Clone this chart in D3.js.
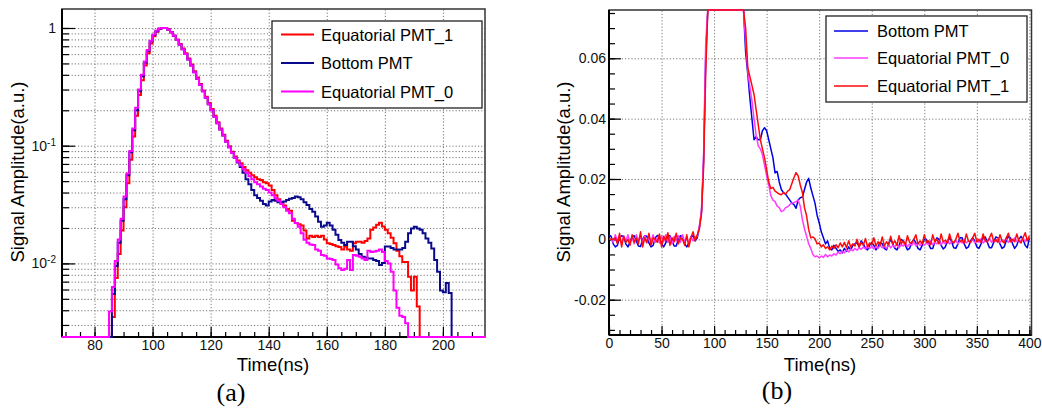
<!DOCTYPE html>
<html>
<head>
<meta charset="utf-8">
<script src="https://cdn.jsdelivr.net/npm/d3@7"></script>
<style>
  body { margin: 0; background: #fff; }
  svg { display: block; font-family: "Liberation Sans", Arial, sans-serif; }
  .grid line { stroke: #777; stroke-dasharray: 1.2,2; }
  .grid path, .ticks path { display: none; }
  .ticks line { stroke: #000; stroke-width: 1.2; }
  .ticks text { font-size: 14px; fill: #111; font-family: "Liberation Sans", Arial, sans-serif; }
</style>
</head>
<body>
<svg id="chart" width="1042" height="411"></svg>
<script>
// ---- panel (a): histograms, 1 ns bins, first bin starts at histStart ----
var histStart = 85;

var eq1Hist = [
  0, 0.0035, 0.0075, 0.012, 0.019,
  0.030, 0.048, 0.076, 0.12, 0.18, 0.27, 0.36, 0.48, 0.61, 0.74,
  0.85, 0.93, 0.98, 1.0, 1.0, 0.97, 0.92, 0.86, 0.80, 0.73,
  0.67, 0.61, 0.55, 0.49, 0.43, 0.38, 0.335, 0.295, 0.26, 0.23,
  0.205, 0.18, 0.158, 0.14, 0.124, 0.11, 0.099, 0.089, 0.081, 0.075,
  0.071, 0.066, 0.062, 0.059, 0.056, 0.054, 0.052, 0.051, 0.049, 0.048,
  0.046, 0.042, 0.038, 0.035, 0.033, 0.031, 0.029, 0.028, 0.023, 0.022,
  0.0215, 0.021, 0.019, 0.0163, 0.0172, 0.0168, 0.0172, 0.0168, 0.0172, 0.016,
  0.0148, 0.0146, 0.0143, 0.014, 0.0138, 0.0131, 0.0139, 0.0131, 0.0128, 0.0148,
  0.0153, 0.0153, 0.015, 0.0155, 0.0163, 0.0193, 0.0202, 0.0213, 0.0222, 0.0206,
  0.0193, 0.018, 0.0165, 0.0148, 0.0128, 0.0115, 0.0103, 0.0103, 0.0077, 0.0059,
  0.0077, 0.0043
];

var bottomHist = [
  0, 0.0055, 0.0095, 0.015, 0.023,
  0.035, 0.056, 0.088, 0.135, 0.2, 0.29, 0.39, 0.51, 0.64, 0.77,
  0.87, 0.94, 0.985, 1.0, 1.0, 0.97, 0.92, 0.86, 0.79, 0.72,
  0.66, 0.60, 0.54, 0.48, 0.42, 0.37, 0.33, 0.29, 0.255, 0.225,
  0.20, 0.175, 0.155, 0.137, 0.122, 0.108, 0.097, 0.087, 0.079, 0.072,
  0.066, 0.059, 0.052, 0.047, 0.042, 0.038, 0.036, 0.034, 0.032, 0.031,
  0.0335, 0.0345, 0.034, 0.033, 0.0328, 0.0335, 0.0345, 0.0355, 0.036, 0.037,
  0.0365, 0.035, 0.033, 0.0313, 0.029, 0.0275, 0.025, 0.0226, 0.0205, 0.021,
  0.0222, 0.021, 0.0193, 0.0175, 0.0158, 0.015, 0.0143, 0.0153, 0.0153, 0.014,
  0.0131, 0.012, 0.0114, 0.0112, 0.011, 0.011, 0.0107, 0.0105, 0.0097, 0.0101,
  0.0139, 0.0139, 0.0135, 0.0131, 0.0131, 0.0131, 0.0135, 0.0153, 0.018, 0.0198,
  0.0205, 0.0198, 0.0193, 0.018, 0.0163, 0.015, 0.0134, 0.0107, 0.0085, 0.0059,
  0.0057, 0.0068, 0.0056
];

var eq0Hist = [
  0.0039, 0.0063, 0.0105, 0.016, 0.024,
  0.037, 0.058, 0.09, 0.14, 0.21, 0.30, 0.40, 0.52, 0.65, 0.78,
  0.88, 0.95, 0.99, 1.0, 1.0, 0.97, 0.92, 0.86, 0.79, 0.72,
  0.66, 0.60, 0.54, 0.48, 0.42, 0.37, 0.33, 0.29, 0.255, 0.225,
  0.20, 0.175, 0.155, 0.137, 0.122, 0.108, 0.097, 0.087, 0.079, 0.073,
  0.068, 0.063, 0.059, 0.055, 0.052, 0.049, 0.047, 0.045, 0.043, 0.042,
  0.040, 0.038, 0.036, 0.034, 0.032, 0.030, 0.028, 0.0267, 0.024, 0.022,
  0.0205, 0.018, 0.0159, 0.015, 0.0145, 0.0143, 0.0131, 0.0128, 0.0118, 0.0116,
  0.011, 0.0109, 0.0107, 0.0098, 0.0091, 0.0088, 0.009, 0.0107, 0.0088, 0.0118,
  0.0116, 0.0114, 0.0110, 0.0107, 0.0128, 0.0125, 0.0126, 0.0128, 0.0131, 0.0125,
  0.0105, 0.0100, 0.0085, 0.0059, 0.0042, 0.0036, 0.0035, 0.0031
];

// ---- panel (b): waveforms, one sample every 2 ns from 0 to 400 ----
var waveStep = 2;

var bottomWave = [
  0.0015, 0.001, -0.0015, -0.0025, -0.002, 0.0005, 0.0012, 0.0008, -0.0015, -0.0025,
  -0.001, 0.001, 0.0012, -0.0005, -0.0022, -0.0024, 0.0, 0.0012, 0.001, -0.0012,
  -0.0025, -0.002, 0.0005, 0.0013, 0.0008, -0.0015, -0.0025, -0.0012, 0.001, 0.0012,
  -0.0005, -0.0022, -0.0022, 0.0, 0.0012, 0.0008, -0.0015, -0.0025, -0.0012, 0.0008,
  0.0012, -0.0005, 0.0005, 0.004, 0.009, 0.026, 0.06, 0.2, 0.39, 0.64,
  0.87, 0.985, 1.0, 0.92, 0.79, 0.66, 0.54, 0.42, 0.33, 0.255,
  0.2, 0.155, 0.122, 0.097, 0.079, 0.062, 0.055, 0.047, 0.040, 0.033,
  0.034, 0.033, 0.033, 0.036, 0.037, 0.036, 0.033, 0.030, 0.027, 0.022,
  0.0225, 0.019, 0.0165, 0.0155, 0.015, 0.014, 0.013, 0.012, 0.0115, 0.0103,
  0.013, 0.0138, 0.014, 0.0165, 0.019, 0.0202, 0.017, 0.0145, 0.012, 0.008,
  0.0055, 0.0025, 0.0005, -0.0015, -0.0005, -0.003, -0.0035, -0.002, -0.003, -0.004,
  -0.0035, -0.0045, -0.003, -0.004, -0.0025, -0.0035, -0.002, -0.0015, -0.001, -0.0025,
  -0.0005, -0.0015, -0.003, -0.0035, -0.002, -0.001, -0.002, -0.0035, -0.0025, -0.001,
  -0.0015, -0.003, -0.0035, -0.0015, 0.0, -0.0015, -0.003, -0.0035, -0.002, 0.0,
  -0.0005, -0.002, -0.0035, -0.003, -0.001, 0.0, -0.0012, -0.003, -0.0035, -0.002,
  0.0, 0.0, -0.0015, -0.003, -0.003, -0.001, 0.0005, 0.0, -0.002, -0.0032,
  -0.0025, -0.0005, 0.0005, -0.0008, -0.0028, -0.003, -0.0015, 0.0005, 0.0005, -0.0015,
  -0.003, -0.0025, -0.0005, 0.0005, -0.0005, -0.0025, -0.003, -0.0015, 0.0005, 0.0008,
  -0.001, -0.0028, -0.0028, -0.001, 0.0008, 0.0005, -0.0015, -0.003, -0.0025, -0.0005,
  0.001, 0.0005, -0.0015, -0.003, -0.002, 0.0, 0.001, 0.0, -0.002, -0.0028,
  0.0005
];

var eq0Wave = [
  0.0, 0.0, -0.001, 0.0015, -0.0005, 0.001, -0.0015, 0.0012, -0.0008, 0.0015,
  -0.001, 0.0005, -0.0015, 0.0015, -0.0005, 0.001, -0.001, 0.0012, -0.0012, 0.0008,
  -0.0005, 0.0015, -0.001, 0.0005, -0.0012, 0.0012, -0.0008, 0.0015, -0.001, 0.0008,
  -0.0015, 0.001, -0.0005, 0.0012, -0.001, 0.0015, -0.0008, 0.0005, -0.0012, 0.001,
  -0.0005, 0.0008, 0.001, 0.0045, 0.0095, 0.028, 0.065, 0.21, 0.40, 0.65,
  0.88, 0.99, 1.0, 0.92, 0.79, 0.66, 0.54, 0.42, 0.33, 0.255,
  0.2, 0.155, 0.122, 0.097, 0.079, 0.066, 0.056, 0.0506, 0.046, 0.04,
  0.0345, 0.031, 0.030, 0.028, 0.0245, 0.021, 0.018, 0.0145, 0.013, 0.0125,
  0.011, 0.0105, 0.0092, 0.0095, 0.0105, 0.0108, 0.0115, 0.012, 0.0122, 0.0125,
  0.013, 0.011, 0.0065, 0.0035, 0.001, -0.0015, -0.003, -0.005, -0.0058, -0.0055,
  -0.0062, -0.0055, -0.006, -0.005, -0.0058, -0.0052, -0.0055, -0.0048, -0.0052, -0.0042,
  -0.0048, -0.004, -0.0045, -0.0035, -0.0042, -0.0032, -0.0038, -0.003, -0.0036, -0.0028,
  -0.0033, -0.0025, -0.0032, -0.0022, -0.003, -0.0022, -0.0032, -0.0025, -0.003, -0.002,
  -0.0028, -0.0022, -0.003, -0.0018, -0.0028, -0.002, -0.0025, -0.0015, -0.0028, -0.0018,
  -0.0022, -0.0012, -0.0025, -0.0015, -0.002, -0.001, -0.0022, -0.0012, -0.002, -0.0008,
  -0.002, -0.0012, -0.0018, -0.0005, -0.0018, -0.001, -0.0015, -0.0005, -0.0018, -0.0008,
  -0.0015, -0.0003, -0.0015, -0.0008, -0.0012, -0.0003, -0.0015, -0.0005, -0.0012, 0.0,
  -0.0012, -0.0005, -0.001, 0.0, -0.0012, -0.0004, -0.001, 0.0002, -0.0012, -0.0005,
  -0.0008, 0.0003, -0.001, -0.0003, -0.0008, 0.0003, -0.001, -0.0002, -0.0008, 0.0005,
  -0.001, -0.0002, -0.0006, 0.0005, -0.0008, 0.0, -0.0006, 0.0005, -0.0008, 0.0,
  0.0005
];

var eq1Wave = [
  0.0, 0.0, 0.0, 0.0005, -0.0015, 0.002, -0.0025, 0.001, -0.001, 0.0,
  -0.002, 0.0015, -0.001, 0.0005, -0.0015, 0.0025, -0.0025, 0.0005, -0.001, 0.002,
  -0.002, 0.0005, 0.0, -0.001, 0.0018, -0.0025, 0.001, -0.0005, 0.0022, -0.002,
  0.0005, -0.0008, 0.002, -0.0015, 0.0005, 0.0, -0.002, 0.0015, -0.0025, 0.0005,
  0.0025, -0.0005, 0.0015, 0.0035, 0.0085, 0.024, 0.055, 0.18, 0.36, 0.61,
  0.85, 0.98, 1.0, 0.92, 0.79, 0.66, 0.54, 0.42, 0.33, 0.255,
  0.2, 0.155, 0.122, 0.097, 0.079, 0.07, 0.057, 0.054, 0.051, 0.048,
  0.043, 0.038, 0.033, 0.030, 0.027, 0.023, 0.019, 0.0168, 0.0172, 0.016,
  0.0155, 0.015, 0.0148, 0.0155, 0.015, 0.016, 0.0165, 0.0185, 0.0205, 0.0221,
  0.021, 0.018, 0.0155, 0.0105, 0.0078, 0.0032, 0.0005, 0.0008, 0.0002, -0.0015,
  -0.0012, -0.0025, -0.0018, -0.003, -0.0025, -0.0035, -0.0022, -0.003, -0.0018, -0.0028,
  -0.0012, -0.0025, -0.001, -0.0028, -0.0005, -0.0025, -0.0015, -0.0022, 0.0, -0.0025,
  -0.001, -0.002, 0.0003, -0.0025, -0.0012, -0.0018, 0.0005, -0.0022, -0.0008, -0.002,
  0.0008, -0.0022, -0.0008, -0.0018, 0.001, -0.0015, -0.0005, -0.002, 0.0012, -0.0015,
  -0.0005, -0.0018, 0.0012, -0.001, -0.0012, 0.0, 0.0015, -0.0015, -0.0005, -0.0015,
  0.0015, -0.001, -0.0005, -0.0018, 0.0015, -0.0008, 0.0, -0.0015, 0.0018, -0.0008,
  -0.0003, -0.0012, 0.0018, -0.0005, -0.0012, 0.0, 0.002, -0.0008, -0.0003, -0.0012,
  0.0018, -0.0005, -0.001, 0.0005, 0.002, -0.0008, 0.0, -0.001, 0.0018, -0.0005,
  -0.0008, 0.0005, 0.002, -0.0008, 0.0, -0.001, 0.0015, -0.0005, -0.0012, 0.0005,
  0.002, -0.0008, 0.0, -0.0008, 0.0018, -0.0005, -0.0012, 0.0005, 0.0022, -0.0005,
  0.0012
];

// tick values
var timeTicksA = [80, 100, 120, 140, 160, 180, 200];
var ampTicksA = [0.01, 0.1, 1];
var timeTicksB = [0, 50, 100, 150, 200, 250, 300, 350, 400];
var ampTicksB = [-0.02, 0, 0.02, 0.04, 0.06];

var seriesA = [
  {name: "Equatorial PMT_1", values: eq1Hist, color: "#ff0000"},
  {name: "Bottom PMT", values: bottomHist, color: "#0a0a8c"},
  {name: "Equatorial PMT_0", values: eq0Hist, color: "#ff00ff"}
];
var seriesB = [
  {name: "Bottom PMT", values: bottomWave, color: "#0000e6"},
  {name: "Equatorial PMT_0", values: eq0Wave, color: "#ff3cff"},
  {name: "Equatorial PMT_1", values: eq1Wave, color: "#ff0a0a"}
];

var svg = d3.select("#chart");
svg.append("rect").attr("width", 1042).attr("height", 411).attr("fill", "#fff");

// ================= panel (a) =================
var boxA = {left: 62, right: 485, top: 9, bottom: 337};
var xA = d3.scaleLinear().domain([68.8, 214.5]).range([boxA.left, boxA.right]);
var yA = d3.scaleLog().domain([0.00237, 1.45]).range([boxA.bottom, boxA.top]);

// every log tick 1..9 x 10^n inside the range
var logTicksA = [];
[-3, -2, -1, 0].forEach(function(e) {
  for (var m = 1; m < 10; m++) {
    var v = m * Math.pow(10, e);
    if (v >= yA.domain()[0] && v <= yA.domain()[1]) logTicksA.push(v);
  }
});

var gA = svg.append("g");

// grid
gA.append("g").attr("class", "grid")
  .attr("transform", "translate(0," + boxA.bottom + ")")
  .call(d3.axisBottom(xA).tickValues(timeTicksA).tickSize(-(boxA.bottom - boxA.top)).tickFormat(""));
gA.append("g").attr("class", "grid")
  .attr("transform", "translate(" + boxA.left + ",0)")
  .call(d3.axisLeft(yA).tickValues(logTicksA).tickSize(-(boxA.right - boxA.left)).tickFormat(""));

// frame
gA.append("rect")
  .attr("x", boxA.left).attr("y", boxA.top)
  .attr("width", boxA.right - boxA.left).attr("height", boxA.bottom - boxA.top)
  .attr("fill", "none").attr("stroke", "#333").attr("stroke-width", 1.5);

// ticks (inside, ROOT style)
gA.append("g").attr("class", "ticks")
  .attr("transform", "translate(0," + boxA.bottom + ")")
  .call(d3.axisBottom(xA).tickValues(d3.range(70, 215, 5)).tickSize(-5).tickFormat(""));
gA.append("g").attr("class", "ticks")
  .attr("transform", "translate(0," + boxA.bottom + ")")
  .call(d3.axisBottom(xA).tickValues(timeTicksA).tickSize(-10).tickPadding(3).tickFormat(d3.format("d")));
gA.append("g").attr("class", "ticks")
  .attr("transform", "translate(" + boxA.left + ",0)")
  .call(d3.axisLeft(yA).tickValues(logTicksA).tickSize(-7).tickFormat(""));
var yAxisA = gA.append("g").attr("class", "ticks")
  .attr("transform", "translate(" + boxA.left + ",0)")
  .call(d3.axisLeft(yA).tickValues(ampTicksA).tickSize(-13).tickPadding(6).tickFormat(""));
yAxisA.selectAll("text").each(function(d) {
  var t = d3.select(this);
  if (d === 1) {
    t.text("1");
  } else {
    t.append("tspan").text("10");
    t.append("tspan").attr("dy", "-0.5em").style("font-size", "10px")
      .text(String(Math.round(Math.log10(d))));
  }
});

// axis lines
gA.append("line").attr("x1", boxA.left).attr("x2", boxA.right).attr("y1", boxA.bottom).attr("y2", boxA.bottom)
  .attr("stroke", "#000").attr("stroke-width", 2);
gA.append("line").attr("x1", boxA.left).attr("x2", boxA.left).attr("y1", boxA.top).attr("y2", boxA.bottom)
  .attr("stroke", "#000").attr("stroke-width", 2);

// histograms; empty bins sit on the lower edge like ROOT draws them
var lineA = d3.line().curve(d3.curveStepAfter)
  .x(function(d) { return xA(d.t); })
  .y(function(d) { return yA(Math.max(d.v, yA.domain()[0])); });

seriesA.forEach(function(s) {
  var pts = [{t: xA.domain()[0], v: 0}];
  s.values.forEach(function(v, i) { pts.push({t: histStart + i, v: v}); });
  pts.push({t: histStart + s.values.length, v: 0});
  pts.push({t: xA.domain()[1], v: 0});
  gA.append("path").datum(pts)
    .attr("d", lineA)
    .attr("fill", "none")
    .attr("stroke", s.color)
    .attr("stroke-width", 2)
    .attr("stroke-linejoin", "miter");
});

// ================= panel (b) =================
var boxB = {left: 609, right: 1031.5, top: 10, bottom: 335};
var xB = d3.scaleLinear().domain([0, 402]).range([boxB.left, boxB.right]);
var yB = d3.scaleLinear().domain([-0.0317, 0.076]).range([boxB.bottom, boxB.top]).clamp(true);

var gB = svg.append("g");

gB.append("g").attr("class", "grid")
  .attr("transform", "translate(0," + boxB.bottom + ")")
  .call(d3.axisBottom(xB).tickValues(timeTicksB).tickSize(-(boxB.bottom - boxB.top)).tickFormat(""));
gB.append("g").attr("class", "grid")
  .attr("transform", "translate(" + boxB.left + ",0)")
  .call(d3.axisLeft(yB).tickValues(ampTicksB).tickSize(-(boxB.right - boxB.left)).tickFormat(""));

gB.append("rect")
  .attr("x", boxB.left).attr("y", boxB.top)
  .attr("width", boxB.right - boxB.left).attr("height", boxB.bottom - boxB.top)
  .attr("fill", "none").attr("stroke", "#333").attr("stroke-width", 1.5);

gB.append("g").attr("class", "ticks")
  .attr("transform", "translate(0," + boxB.bottom + ")")
  .call(d3.axisBottom(xB).tickValues(d3.range(0, 401, 10)).tickSize(-5).tickFormat(""));
gB.append("g").attr("class", "ticks")
  .attr("transform", "translate(0," + boxB.bottom + ")")
  .call(d3.axisBottom(xB).tickValues(timeTicksB).tickSize(-9).tickPadding(3).tickFormat(d3.format("d")));
gB.append("g").attr("class", "ticks")
  .attr("transform", "translate(" + boxB.left + ",0)")
  .call(d3.axisLeft(yB).tickValues(d3.range(-0.03, 0.0751, 0.005)).tickSize(-6).tickFormat(""));
gB.append("g").attr("class", "ticks")
  .attr("transform", "translate(" + boxB.left + ",0)")
  .call(d3.axisLeft(yB).tickValues(ampTicksB).tickSize(-12).tickPadding(3)
    .tickFormat(function(d) { return d === 0 ? "0" : d.toFixed(2); }));

gB.append("line").attr("x1", boxB.left).attr("x2", boxB.right).attr("y1", boxB.bottom).attr("y2", boxB.bottom)
  .attr("stroke", "#000").attr("stroke-width", 2);
gB.append("line").attr("x1", boxB.left).attr("x2", boxB.left).attr("y1", boxB.top).attr("y2", boxB.bottom)
  .attr("stroke", "#000").attr("stroke-width", 2);

// sampled waveforms joined point to point
var lineB = d3.line()
  .x(function(d) { return xB(d.t); })
  .y(function(d) { return yB(d.v); });

seriesB.forEach(function(s) {
  var pts = s.values.map(function(v, i) { return {t: i * waveStep, v: v}; });
  gB.append("path").datum(pts)
    .attr("d", lineB)
    .attr("fill", "none")
    .attr("stroke", s.color)
    .attr("stroke-width", 1.5)
    .attr("stroke-linejoin", "round");
});

// ================= legends =================
function drawLegend(g, box, rowsY, lineX, textX, series, lw) {
  g.append("rect")
    .attr("x", box.x).attr("y", box.y).attr("width", box.w).attr("height", box.h)
    .attr("fill", "#fff").attr("stroke", "#222").attr("stroke-width", 1.3);
  series.forEach(function(s, i) {
    g.append("line")
      .attr("x1", lineX[0]).attr("x2", lineX[1])
      .attr("y1", rowsY[i]).attr("y2", rowsY[i])
      .attr("stroke", s.color).attr("stroke-width", lw);
    g.append("text")
      .attr("x", textX).attr("y", rowsY[i] + 6)
      .attr("font-size", "16.5px").attr("fill", "#000")
      .text(s.name);
  });
}
drawLegend(gA, {x: 272, y: 21, w: 210, h: 87}, [34.5, 63, 91.5], [281, 314], 321, seriesA, 2);
drawLegend(gB, {x: 826, y: 16, w: 201, h: 86}, [31, 58, 86], [834, 868], 877, seriesB, 1.6);

// ================= titles =================
function axisTitles(g, xCenter, yTitleX) {
  g.append("text")
    .attr("x", xCenter).attr("y", 371)
    .attr("text-anchor", "middle").attr("font-size", "18.5px").attr("fill", "#000")
    .text("Time(ns)");
  g.append("text")
    .attr("transform", "translate(" + yTitleX + ",172) rotate(-90)")
    .attr("text-anchor", "middle").attr("font-size", "18.5px").attr("fill", "#000")
    .text("Signal Amplitude(a.u.)");
}
axisTitles(gA, 273, 24);
axisTitles(gB, 820, 570);

svg.append("text")
  .attr("x", 231).attr("y", 401).attr("text-anchor", "middle")
  .attr("font-family", "'Liberation Serif', 'DejaVu Serif', serif").attr("font-size", "26px")
  .text("(a)");
svg.append("text")
  .attr("x", 777).attr("y", 399).attr("text-anchor", "middle")
  .attr("font-family", "'Liberation Serif', 'DejaVu Serif', serif").attr("font-size", "26px")
  .text("(b)");
</script>
</body>
</html>
